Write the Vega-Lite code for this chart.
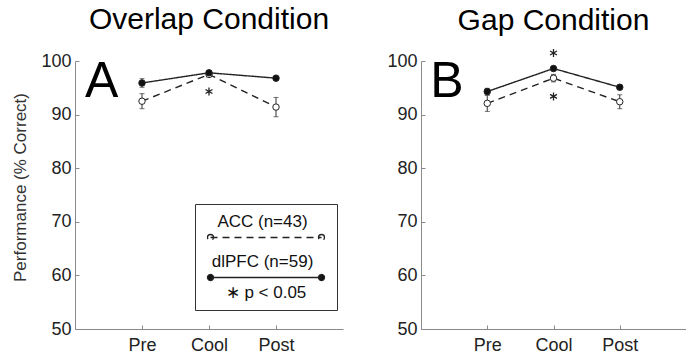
{
  "$schema": "https://vega.github.io/schema/vega-lite/v6.json",
  "padding": {"left": 11, "top": 5, "right": 0, "bottom": 0},
  "config": {
    "font": "Liberation Sans",
    "view": {"stroke": null},
    "axis": {
      "grid": false,
      "domainColor": "#8a8a8a",
      "tickColor": "#8a8a8a",
      "labelColor": "#222",
      "labelFont": "Liberation Sans",
      "labelFontSize": 18,
      "titleFont": "Liberation Sans",
      "titleFontSize": 17,
      "titleFontWeight": "normal",
      "titleColor": "#333",
      "tickSize": -4,
      "domainWidth": 1
    },
    "title": {"font": "Liberation Sans", "fontSize": 30, "fontWeight": "normal", "color": "#000", "anchor": "middle"},
    "concat": {"spacing": 43}
  },
  "datasets": {
    "perf": [
      {"cond": "Overlap", "series": "ACC (n=43)", "phase": "Pre", "y": 92.5, "err": 1.4},
      {"cond": "Overlap", "series": "ACC (n=43)", "phase": "Cool", "y": 97.5, "err": 0.5},
      {"cond": "Overlap", "series": "ACC (n=43)", "phase": "Post", "y": 91.4, "err": 1.8},
      {"cond": "Overlap", "series": "dlPFC (n=59)", "phase": "Pre", "y": 95.9, "err": 0.8},
      {"cond": "Overlap", "series": "dlPFC (n=59)", "phase": "Cool", "y": 97.8, "err": 0.4},
      {"cond": "Overlap", "series": "dlPFC (n=59)", "phase": "Post", "y": 96.8, "err": 0.3},
      {"cond": "Gap", "series": "ACC (n=43)", "phase": "Pre", "y": 92.1, "err": 1.5},
      {"cond": "Gap", "series": "ACC (n=43)", "phase": "Cool", "y": 96.8, "err": 0.7},
      {"cond": "Gap", "series": "ACC (n=43)", "phase": "Post", "y": 92.4, "err": 1.3},
      {"cond": "Gap", "series": "dlPFC (n=59)", "phase": "Pre", "y": 94.3, "err": 0.6},
      {"cond": "Gap", "series": "dlPFC (n=59)", "phase": "Cool", "y": 98.6, "err": 0.3},
      {"cond": "Gap", "series": "dlPFC (n=59)", "phase": "Post", "y": 95.1, "err": 0.4}
    ],
    "stars": [
      {"cond": "Overlap", "phase": "Cool", "y": 94.3},
      {"cond": "Gap", "phase": "Cool", "y": 93.4},
      {"cond": "Gap", "phase": "Cool", "y": 101.5}
    ],
    "letters": [
      {"cond": "Overlap", "letter": "A"},
      {"cond": "Gap", "letter": "B"}
    ]
  },
  "resolve": {
    "scale": {"strokeDash": "independent", "fill": "independent"},
    "legend": {"strokeDash": "independent", "fill": "independent"}
  },
  "hconcat": [
    {
      "width": 268,
      "height": 268,
      "title": {"text": "Overlap Condition", "offset": 17},
      "layer": [
        {
          "data": {"name": "perf"},
          "transform": [{"filter": "datum.cond === 'Overlap'"}],
          "mark": {"type": "line", "strokeWidth": 1.4, "color": "#222"},
          "encoding": {
            "x": {"field": "phase", "type": "ordinal", "title": null, "sort": ["Pre", "Cool", "Post"], "scale": {"type": "point", "padding": 1, "domain": ["Pre", "Cool", "Post"]}, "axis": {"title": null, "labelAngle": 0, "labelPadding": 11}},
            "y": {"field": "y", "type": "quantitative", "title": "Performance (% Correct)", "scale": {"domain": [50, 100], "zero": false}, "axis": {"values": [50, 60, 70, 80, 90, 100], "labelPadding": 8, "titlePadding": 11, "titleY": 126}},
            "strokeDash": {
              "field": "series", "type": "nominal",
              "scale": {"domain": ["ACC (n=43)", "dlPFC (n=59)"], "range": [[7, 5], [1, 0]]},
              "legend": {
                "orient": "none", "legendX": 120, "legendY": 143,
                "title": "∗ p < 0.05", "titleOrient": "bottom", "titleAnchor": "middle",
                "titleFontSize": 17, "titleFontWeight": "normal", "titleColor": "#111", "titleFont": "Liberation Sans", "titlePadding": 2,
                "symbolType": "M-11.1,3.2L11.1,3.2M-11.1,2.6A0.6,0.6 0 1,1 -11.1,3.8A0.6,0.6 0 1,1 -11.1,2.6M11.1,2.6A0.6,0.6 0 1,1 11.1,3.8A0.6,0.6 0 1,1 11.1,2.6",
                "symbolSize": 100, "symbolOffset": 53.5, "symbolStrokeWidth": 1.3, "symbolStrokeColor": "#222",
                "labelFontSize": 17, "labelColor": "#111", "labelFont": "Liberation Sans", "labelAlign": "center",
                "strokeColor": "#333", "padding": 9, "rowPadding": 8,
                "encode": {"labels": {"update": {"x": {"value": 58.5}}}}
              }
            }
          }
        },
        {
          "data": {"name": "perf"},
          "transform": [{"filter": "datum.cond === 'Overlap'"}],
          "mark": {"type": "errorbar", "color": "#333", "ticks": {"size": 5}},
          "encoding": {
            "x": {"field": "phase", "type": "ordinal", "title": null, "sort": ["Pre", "Cool", "Post"]},
            "y": {"field": "y", "type": "quantitative", "title": "Performance (% Correct)"},
            "yError": {"field": "err"}
          }
        },
        {
          "data": {"name": "perf"},
          "transform": [{"filter": "datum.cond === 'Overlap'"}],
          "mark": {"type": "point", "shape": "circle", "size": 42, "stroke": "#222", "strokeWidth": 1, "opacity": 1},
          "encoding": {
            "x": {"field": "phase", "type": "ordinal", "title": null, "sort": ["Pre", "Cool", "Post"]},
            "y": {"field": "y", "type": "quantitative", "title": "Performance (% Correct)"},
            "fill": {
              "field": "series", "type": "nominal",
              "scale": {"domain": ["ACC (n=43)", "dlPFC (n=59)"], "range": ["#ffffff", "#111111"]},
              "legend": {
                "orient": "none", "legendX": 120, "legendY": 143,
                "title": "∗ p < 0.05", "titleOrient": "bottom", "titleAnchor": "middle",
                "titleFontSize": 17, "titleFontWeight": "normal", "titleColor": "#111", "titleFont": "Liberation Sans", "titlePadding": 2,
                "symbolType": "M-11.1,3.2L11.1,3.2M-11.1,2.6A0.6,0.6 0 1,1 -11.1,3.8A0.6,0.6 0 1,1 -11.1,2.6M11.1,2.6A0.6,0.6 0 1,1 11.1,3.8A0.6,0.6 0 1,1 11.1,2.6",
                "symbolSize": 100, "symbolOffset": 53.5, "symbolStrokeWidth": 1.3, "symbolStrokeColor": "#222",
                "labelFontSize": 17, "labelColor": "#111", "labelFont": "Liberation Sans", "labelAlign": "center",
                "strokeColor": "#333", "padding": 9, "rowPadding": 8,
                "encode": {"labels": {"update": {"x": {"value": 58.5}}}}
              }
            }
          }
        },
        {
          "data": {"name": "stars"},
          "transform": [{"filter": "datum.cond === 'Overlap'"}],
          "mark": {"type": "point", "shape": "M0,-1L0,1M-0.866,-0.5L0.866,0.5M-0.866,0.5L0.866,-0.5", "size": 64, "stroke": "#222", "strokeWidth": 1.3, "filled": false, "opacity": 1},
          "encoding": {
            "x": {"field": "phase", "type": "ordinal", "title": null, "sort": ["Pre", "Cool", "Post"]},
            "y": {"field": "y", "type": "quantitative", "title": "Performance (% Correct)"}
          }
        },
        {
          "data": {"name": "letters"},
          "transform": [{"filter": "datum.cond === 'Overlap'"}],
          "mark": {"type": "text", "fontSize": 50, "align": "left", "baseline": "alphabetic", "dx": -57, "color": "#000"},
          "encoding": {
            "text": {"field": "letter"},
            "x": {"datum": "Pre", "type": "ordinal"},
            "y": {"datum": 93.2, "type": "quantitative"}
          }
        }
      ]
    },
    {
      "width": 265,
      "height": 268,
      "title": {"text": "Gap Condition", "offset": 10},
      "layer": [
        {
          "data": {"name": "perf"},
          "transform": [{"filter": "datum.cond === 'Gap'"}],
          "mark": {"type": "line", "strokeWidth": 1.4, "color": "#222"},
          "encoding": {
            "x": {"field": "phase", "type": "ordinal", "title": null, "sort": ["Pre", "Cool", "Post"], "scale": {"type": "point", "padding": 1, "domain": ["Pre", "Cool", "Post"]}, "axis": {"title": null, "labelAngle": 0, "labelPadding": 11}},
            "y": {"field": "y", "type": "quantitative", "title": null, "scale": {"domain": [50, 100], "zero": false}, "axis": {"title": null, "values": [50, 60, 70, 80, 90, 100], "labelPadding": 8}},
            "strokeDash": {"field": "series", "type": "nominal", "scale": {"domain": ["ACC (n=43)", "dlPFC (n=59)"], "range": [[7, 5], [1, 0]]}, "legend": null}
          }
        },
        {
          "data": {"name": "perf"},
          "transform": [{"filter": "datum.cond === 'Gap'"}],
          "mark": {"type": "errorbar", "color": "#333", "ticks": {"size": 5}},
          "encoding": {
            "x": {"field": "phase", "type": "ordinal", "title": null, "sort": ["Pre", "Cool", "Post"]},
            "y": {"field": "y", "type": "quantitative", "title": null},
            "yError": {"field": "err"}
          }
        },
        {
          "data": {"name": "perf"},
          "transform": [{"filter": "datum.cond === 'Gap'"}],
          "mark": {"type": "point", "shape": "circle", "size": 42, "stroke": "#222", "strokeWidth": 1, "opacity": 1},
          "encoding": {
            "x": {"field": "phase", "type": "ordinal", "title": null, "sort": ["Pre", "Cool", "Post"]},
            "y": {"field": "y", "type": "quantitative", "title": null},
            "fill": {"field": "series", "type": "nominal", "scale": {"domain": ["ACC (n=43)", "dlPFC (n=59)"], "range": ["#ffffff", "#111111"]}, "legend": null}
          }
        },
        {
          "data": {"name": "stars"},
          "transform": [{"filter": "datum.cond === 'Gap'"}],
          "mark": {"type": "point", "shape": "M0,-1L0,1M-0.866,-0.5L0.866,0.5M-0.866,0.5L0.866,-0.5", "size": 64, "stroke": "#222", "strokeWidth": 1.3, "filled": false, "opacity": 1},
          "encoding": {
            "x": {"field": "phase", "type": "ordinal", "title": null, "sort": ["Pre", "Cool", "Post"]},
            "y": {"field": "y", "type": "quantitative", "title": null}
          }
        },
        {
          "data": {"name": "letters"},
          "transform": [{"filter": "datum.cond === 'Gap'"}],
          "mark": {"type": "text", "fontSize": 50, "align": "left", "baseline": "alphabetic", "dx": -57, "color": "#000"},
          "encoding": {
            "text": {"field": "letter"},
            "x": {"datum": "Pre", "type": "ordinal"},
            "y": {"datum": 93.2, "type": "quantitative"}
          }
        }
      ]
    }
  ]
}
